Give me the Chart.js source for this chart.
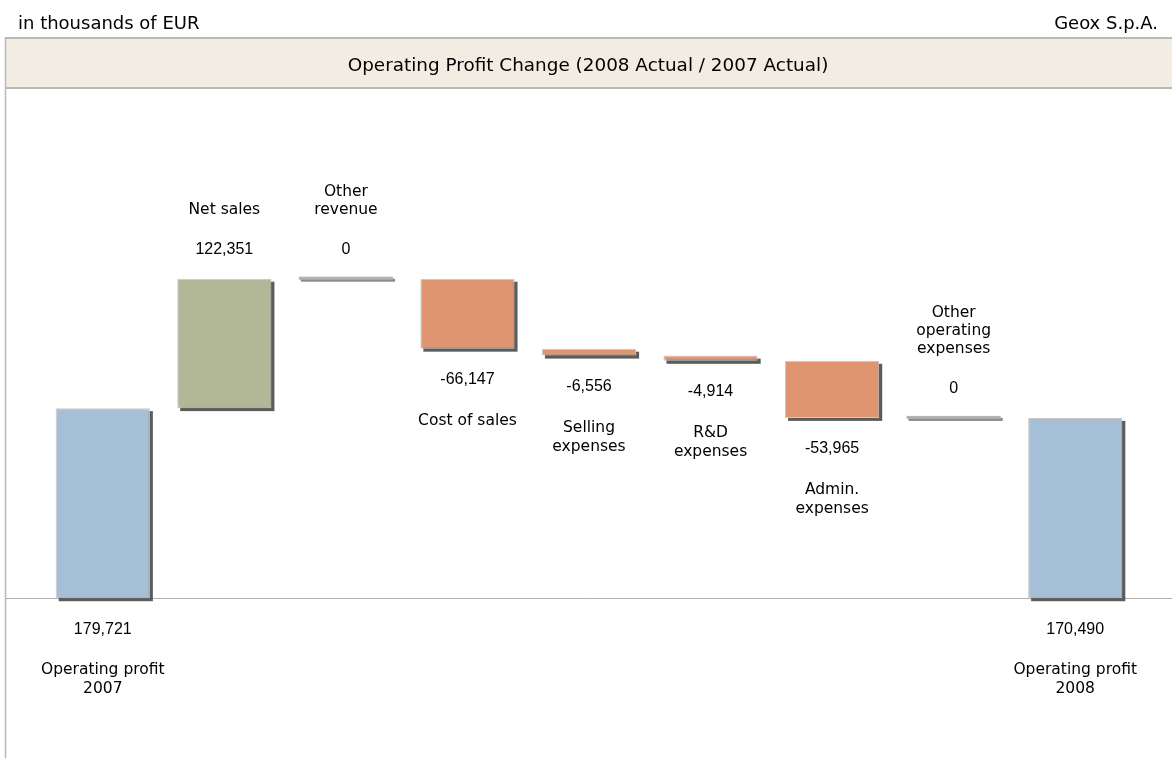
<!DOCTYPE html>
<html>
<head>
<meta charset="utf-8">
<script src="https://cdn.jsdelivr.net/npm/chart.js@4.4.0/dist/chart.umd.min.js"></script>
<style>
  html, body { margin: 0; padding: 0; background: #fff; }
  canvas { display: block; }
</style>
</head>
<body>
<canvas id="graph" width="1172" height="758"></canvas>
<script>
// datos del grafico
const categorias = [
    ['Operating profit', '2007'],
    ['Net sales'],
    ['Other', 'revenue'],
    ['Cost of sales'],
    ['Selling', 'expenses'],
    ['R&D', 'expenses'],
    ['Admin.', 'expenses'],
    ['Other', 'operating', 'expenses'],
    ['Operating profit', '2008']
];
const valores = [179721, 122351, 0, -66147, -6556, -4914, -53965, 0, 170490];
const es_total = [true, false, false, false, false, false, false, false, true];
const titulo = 'Operating Profit Change (2008 Actual / 2007 Actual)';
const unidad = 'in thousands of EUR';
const empresa = 'Geox S.p.A.';

// rangos flotantes de la cascada
let acumulado = 0;
const rangos = valores.map((v, i) => {
    if (es_total[i]) {
        acumulado = v;
        return [0, v];
    }
    const inicio = acumulado;
    acumulado += v;
    return [inicio, acumulado];
});

const colores = valores.map((v, i) => {
    if (es_total[i]) return '#a5bfd7';
    if (v > 0) return '#b1b797';
    if (v < 0) return '#e09571';
    return 'rgba(0,0,0,0)';
});

const fuente_texto = '"DejaVu Sans", Verdana, sans-serif';
const fuente_numeros = '"Liberation Sans", Arial, sans-serif';

// fondo, cabecera y linea base
const fondo = {
    id: 'fondo',
    beforeDraw: (chart) => {
        const ctx = chart.ctx;
        const y0 = chart.scales.y.getPixelForValue(0);
        ctx.save();
        ctx.fillStyle = '#fff';
        ctx.fillRect(0, 0, chart.width, chart.height);

        ctx.fillStyle = '#000';
        ctx.font = '18px ' + fuente_texto;
        ctx.textBaseline = 'alphabetic';
        ctx.textAlign = 'left';
        ctx.fillText(unidad, 18, 29);
        ctx.textAlign = 'right';
        ctx.fillText(empresa, 1158, 29);

        ctx.fillStyle = '#f3ece2';
        ctx.fillRect(5, 37, chart.width - 5, 51);
        ctx.strokeStyle = '#b8b8b8';
        ctx.lineWidth = 2;
        ctx.beginPath();
        ctx.moveTo(5, 38); ctx.lineTo(chart.width, 38);
        ctx.moveTo(5, 88); ctx.lineTo(chart.width, 88);
        ctx.stroke();

        ctx.lineWidth = 1.5;
        ctx.beginPath();
        ctx.moveTo(5.5, 37); ctx.lineTo(5.5, chart.height);
        ctx.stroke();

        ctx.lineWidth = 1;
        ctx.strokeStyle = '#b0b0b0';
        ctx.beginPath();
        ctx.moveTo(5, Math.round(y0) + 0.5); ctx.lineTo(chart.width, Math.round(y0) + 0.5);
        ctx.stroke();

        ctx.fillStyle = '#000';
        ctx.font = '18.4px ' + fuente_texto;
        ctx.textAlign = 'center';
        ctx.fillText(titulo, 588, 71);
        ctx.restore();
    }
};

// sombras y lineas de valor cero
const sombras = {
    id: 'sombras',
    beforeDatasetsDraw: (chart) => {
        const ctx = chart.ctx;
        const meta = chart.getDatasetMeta(0);
        ctx.save();
        meta.data.forEach((bar, i) => {
            const { x, y, base, width } = bar.getProps(['x', 'y', 'base', 'width'], true);
            const arriba = Math.min(y, base);
            const abajo = Math.max(y, base);
            if (!es_total[i] && valores[i] === 0) {
                ctx.fillStyle = '#8a8a8a';
                ctx.fillRect(x - width / 2 + 2, y, width, 3);
                ctx.fillStyle = '#b2b2b2';
                ctx.fillRect(x - width / 2, y - 2, width, 3);
                return;
            }
            ctx.fillStyle = '#5c5c5c';
            ctx.fillRect(x - width / 2 + 3, arriba + 3, width, abajo - arriba);
        });
        ctx.restore();
    }
};

// etiquetas de valor y nombre
const etiquetas = {
    id: 'etiquetas',
    afterDatasetsDraw: (chart) => {
        const ctx = chart.ctx;
        const meta = chart.getDatasetMeta(0);
        ctx.save();
        ctx.fillStyle = '#000';
        ctx.textAlign = 'center';
        ctx.textBaseline = 'middle';
        meta.data.forEach((bar, i) => {
            const { x, y, base } = bar.getProps(['x', 'y', 'base'], true);
            const arriba = Math.min(y, base);
            const abajo = Math.max(y, base);
            const lineas = categorias[i];
            const texto = valores[i].toLocaleString('en-US');
            const alto_linea = 19;
            if (es_total[i] || valores[i] < 0) {
                ctx.font = '16px ' + fuente_numeros;
                ctx.fillText(texto, x, abajo + 31);
                ctx.font = '15.5px ' + fuente_texto;
                lineas.forEach((l, k) => ctx.fillText(l, x, abajo + 72 + k * alto_linea));
            } else {
                ctx.font = '16px ' + fuente_numeros;
                ctx.fillText(texto, x, arriba - 29);
                ctx.font = '15.5px ' + fuente_texto;
                const n = lineas.length;
                lineas.forEach((l, k) => ctx.fillText(l, x, arriba - 69 - (n - 1 - k) * 18));
            }
        });
        ctx.restore();
    }
};

const graph = document.querySelector('#graph');
new Chart(graph, {
    type: 'bar',
    data: {
        labels: categorias.map(c => c.join(' ')),
        datasets: [{
            data: rangos,
            backgroundColor: colores,
            borderColor: valores.map(v => v === 0 ? 'rgba(0,0,0,0)' : '#c9c9c9'),
            borderWidth: 1,
            borderSkipped: false,
            barPercentage: 0.775,
            categoryPercentage: 1
        }]
    },
    options: {
        responsive: false,
        animation: false,
        layout: { padding: { left: 42, right: 36, top: 100, bottom: 18 } },
        plugins: { legend: { display: false }, tooltip: { enabled: false } },
        scales: {
            x: { display: false },
            y: { display: false, min: -134000, max: 471000 }
        }
    },
    plugins: [fondo, sombras, etiquetas]
});
</script>
</body>
</html>
